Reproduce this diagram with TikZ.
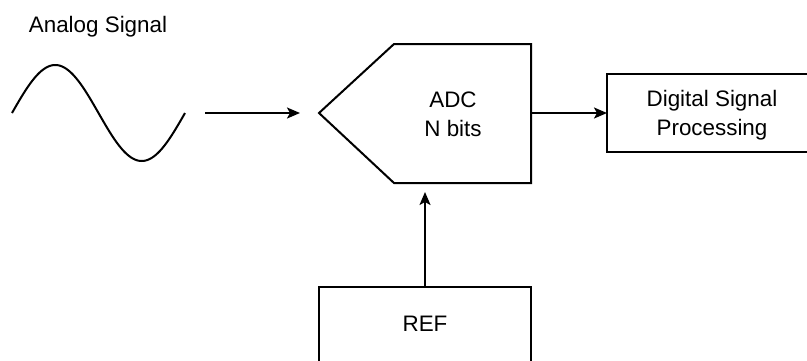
\documentclass[tikz,border=0pt]{standalone}
\usepackage{fontspec}
\setmainfont{Liberation Sans}
\usetikzlibrary{arrows.meta}
\begin{document}
\begin{tikzpicture}[x=0.5pt,y=-0.5pt,line width=1pt,
  lbl/.style={font=\fontsize{11.2}{14.5}\selectfont,align=center,inner sep=0pt},
  conn/.style={line width=1pt,-{Stealth[length=6.5pt,width=5.5pt,inset=1.5pt]}}]
\useasboundingbox (0,0) rectangle (807,360);
\clip (0,0) rectangle (807,360);

% input signal and its label
\node[lbl,anchor=base] (title) at (98,32) {Analog Signal};
\draw[line width=1pt] plot[domain=0:360,samples=120,smooth] ({12+0.48056*\x},{113-48*sin(\x)});

% converter block
\draw (319,113) -- (394,44) -- (531,44) -- (531,183) -- (394,183) -- cycle;
\node[lbl] (adc) at (453,114) {ADC\\N bits};
\coordinate (adcE) at (531,113);
\coordinate (adcIn) at (300,113);
\coordinate (adcS) at (425,192);

% downstream block, running past the right edge
\draw (840,74) -- (607,74) -- (607,152) -- (840,152);
\coordinate (dspW) at (607,113);
\node[lbl] (dsp) at (712,115) {Digital Signal\\Processing};

% reference block, running past the bottom edge
\draw (319,380) -- (319,287) -- (531,287) -- (531,380);
\coordinate (refN) at (425,287);
\node[lbl] (ref) at (425,324) {REF};

% connectors
\coordinate (sigEnd) at (205,113);
\draw[conn] (sigEnd) -- (adcIn);
\draw[conn] (adcE) -- (dspW);
\draw[conn] (refN) -- (adcS);
\end{tikzpicture}
\end{document}
